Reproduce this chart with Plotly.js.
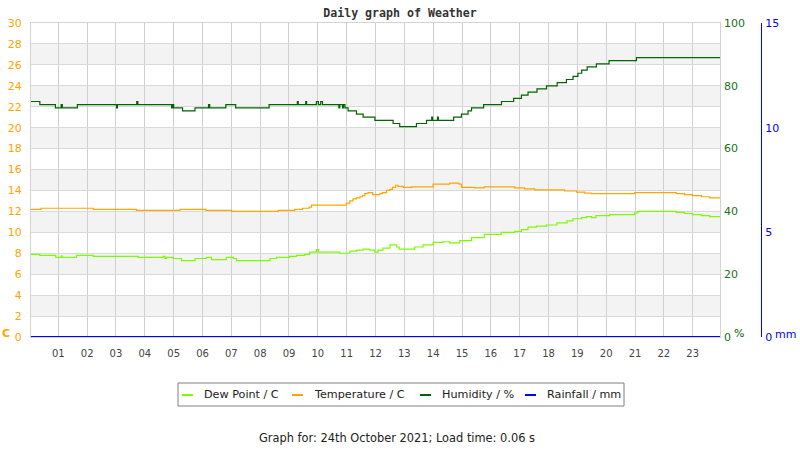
<!DOCTYPE html>
<html>
<head>
<meta charset="utf-8">
<script src="https://cdn.plot.ly/plotly-3.0.1.min.js"></script>
<style>html,body{margin:0;padding:0;background:#fff;}#chart{width:800px;height:450px;}</style>
</head>
<body>
<div id="chart"></div>
<script>
// ---- data (hours of day, step values) ----
var hourTicks = [1,2,3,4,5,6,7,8,9,10,11,12,13,14,15,16,17,18,19,20,21,22,23];
var hourLabels = ["01","02","03","04","05","06","07","08","09","10","11","12","13","14","15","16","17","18","19","20","21","22","23"];

var dewHours = [0.053,0.36,0.91,1.10,1.13,1.63,2.21,3.77,4.64,4.70,4.75,4.98,5.27,5.74,6.14,6.31,6.83,7.07,7.18,8.34,8.57,9.01,9.26,9.55,9.72,9.95,10.02,10.76,11.11,11.34,11.57,11.80,11.98,12.09,12.26,12.50,12.73,12.82,13.36,13.65,14.00,14.34,14.57,14.92,15.33,15.77,16.36,16.83,17.06,17.29,17.58,17.93,18.29,18.64,18.85,19.14,19.31,19.49,19.64,20.12,20.99,21.10,22.43,22.72,22.99,23.30,23.59,23.947];
var dewPoint = [7.9,7.8,7.6,7.75,7.6,7.8,7.7,7.6,7.7,7.5,7.6,7.5,7.3,7.5,7.6,7.4,7.6,7.5,7.3,7.5,7.6,7.7,7.8,7.9,8.1,8.35,8.1,8.0,8.2,8.3,8.4,8.3,8.1,8.3,8.5,8.8,8.6,8.4,8.6,8.8,9.05,9.1,9.0,9.2,9.5,9.8,10.0,10.1,10.25,10.5,10.6,10.7,10.9,11.1,11.3,11.4,11.5,11.4,11.6,11.7,11.85,12.0,11.9,11.8,11.7,11.6,11.5,11.5];

var tempHours = [0.053,0.40,2.21,3.71,5.22,6.12,7.01,8.63,9.20,9.47,9.70,9.78,10.99,11.11,11.22,11.34,11.46,11.55,11.63,11.74,11.90,12.15,12.24,12.38,12.50,12.59,12.70,12.78,12.96,13.25,14.00,14.57,14.90,14.98,15.44,15.77,16.83,17.17,17.52,18.56,18.97,19.26,19.49,20.99,22.43,22.72,22.99,23.30,23.59,23.947];
var temperature = [12.2,12.3,12.2,12.1,12.2,12.1,12.0,12.1,12.2,12.3,12.4,12.6,12.8,13.0,13.2,13.3,13.4,13.5,13.7,13.8,13.6,13.7,13.8,14.0,14.1,14.3,14.5,14.4,14.3,14.35,14.6,14.7,14.6,14.3,14.25,14.35,14.25,14.15,14.05,13.95,13.85,13.75,13.7,13.8,13.7,13.6,13.5,13.4,13.3,13.3];

var humHours = [0.053,0.36,0.90,1.10,1.14,1.66,3.02,3.05,3.72,3.76,4.93,4.96,5.00,5.31,5.74,6.21,6.25,6.81,7.15,8.31,9.29,9.32,9.58,9.61,9.95,10.02,10.10,10.16,10.73,10.76,10.86,10.89,10.94,11.05,11.34,11.57,11.98,12.61,12.84,13.42,13.77,13.95,13.98,14.15,14.18,14.71,14.98,15.21,15.33,15.75,16.37,16.79,17.06,17.29,17.60,17.93,18.30,18.62,18.85,19.02,19.15,19.34,19.66,20.10,21.05,23.947];
var humidity = [75,74,73,74,73,74,73,74,75,74,73,74,73,72,73,74,73,74,73,74,75,74,75,74,75,74,75,74,73,74,73,74,73,72,71,70,69,68,67,68,69,70,69,70,69,70,71,72,73,74,75,76,77,78,79,80,81,82,83,84,85,86,87,88,89,89];

var rainHours = [0.053,23.947];
var rainfall = [0,0];

var leftTicks = [0,2,4,6,8,10,12,14,16,18,20,22,24,26,28,30];
var humTicks = [0,20,40,60,80,100];
var rainTicks = [0,5,10,15];
var legendNames = ["Dew Point / C","Temperature / C","Humidity / %","Rainfall / mm"];
var seriesColors = ["#7CFC00","#FFA500","#006400","#0000FF"];

// ---- layout helpers (pixel -> paper) ----
var W = 800, H = 450, ML = 31, MR = 39, MT = 23, MB = 113;
var PW = W - ML - MR, PH = H - MT - MB;
function px(x){ return (x - ML) / PW; }
function py(y){ return (H - MB - y) / PH; }

var traces = [
  {x: dewHours, y: dewPoint, name: legendNames[0], type:'scatter', mode:'lines', line:{shape:'hv', color:seriesColors[0], width:1.2}, xaxis:'x', yaxis:'y'},
  {x: tempHours, y: temperature, name: legendNames[1], type:'scatter', mode:'lines', line:{shape:'hv', color:seriesColors[1], width:1.2}, xaxis:'x', yaxis:'y'},
  {x: humHours, y: humidity, name: legendNames[2], type:'scatter', mode:'lines', line:{shape:'hv', color:seriesColors[2], width:1.2}, xaxis:'x', yaxis:'y2'},
  {x: rainHours, y: rainfall, name: legendNames[3], type:'scatter', mode:'lines', line:{shape:'hv', color:seriesColors[3], width:2}, xaxis:'x', yaxis:'y3', cliponaxis:false}
];

var shapes = [];
// alternating bands
for (var b = 2; b < 30; b += 4) {
  shapes.push({type:'rect', xref:'x domain', yref:'y', x0:0, x1:1, y0:b, y1:b+2, fillcolor:'#f3f3f3', line:{width:0}, layer:'below'});
}
// custom legend box + swatches
var legBox = {x0:178, x1:624, y0:383, y1:406};
shapes.push({type:'rect', xref:'paper', yref:'paper', x0:px(legBox.x0), x1:px(legBox.x1), y0:py(legBox.y1), y1:py(legBox.y0), line:{color:'#808080', width:1}, fillcolor:'#ffffff'});
var swatchX = [182, 292, 420, 525];
var textX = [202, 312, 440, 545];
var annotations = [];
for (var i = 0; i < 4; i++) {
  shapes.push({type:'line', xref:'paper', yref:'paper', x0:px(swatchX[i]), x1:px(swatchX[i]+11), y0:py(395), y1:py(395), line:{color:seriesColors[i], width:2}});
  annotations.push({xref:'paper', yref:'paper', x:px(textX[i]), y:py(394.5), xanchor:'left', yanchor:'middle', text:legendNames[i], showarrow:false, font:{family:'DejaVu Sans', size:11.2, color:'#222'}});
}
annotations.push({xref:'paper', yref:'paper', x:px(6), y:py(333), xanchor:'center', yanchor:'middle', text:'<b>C</b>', showarrow:false, font:{family:'DejaVu Sans', size:11, color:'#FFA500'}});
annotations.push({xref:'paper', yref:'paper', x:px(739), y:py(333.5), xanchor:'center', yanchor:'middle', text:'%', showarrow:false, font:{family:'DejaVu Sans', size:11, color:'#006400'}});
annotations.push({xref:'paper', yref:'paper', x:px(786), y:py(334.5), xanchor:'center', yanchor:'middle', text:'mm', showarrow:false, font:{family:'DejaVu Sans', size:11, color:'#0000FF'}});
annotations.push({xref:'paper', yref:'paper', x:px(396.5), y:py(438), xanchor:'center', yanchor:'middle', text:'Graph for: 24th October 2021; Load time: 0.06 s', showarrow:false, font:{family:'DejaVu Sans', size:11.4, color:'#222'}});

var layout = {
  width: W, height: H,
  margin: {l:ML, r:MR, t:MT, b:MB, pad:0},
  paper_bgcolor:'#ffffff', plot_bgcolor:'#ffffff',
  font: {family:'DejaVu Sans', size:11, color:'#444'},
  showlegend: false,
  title: {text:'<b>Daily graph of Weather</b>', x:0.5, xref:'container', y:1-13/H, yref:'container', yanchor:'middle', xanchor:'center', font:{family:'DejaVu Sans Mono', size:11.6, color:'#333'}},
  xaxis: {domain:[0, (720-ML)/PW], range:[0.053, 23.947], tickvals:hourTicks, ticktext:hourLabels, showgrid:true, gridcolor:'#d0d0d0', gridwidth:1, zeroline:false, showline:true, mirror:true, linecolor:'#d3d3d3', linewidth:1, ticks:'', tickfont:{family:'DejaVu Sans', size:10, color:'#444'}, ticklabelstandoff:7, fixedrange:true},
  yaxis: {range:[0,30], tickvals:leftTicks, showgrid:true, gridcolor:'#d9d9d9', gridwidth:1, zeroline:false, showline:true, mirror:true, linecolor:'#d3d3d3', ticks:'', tickfont:{family:'DejaVu Sans', size:11, color:'#FFA500'}, ticklabelstandoff:6, fixedrange:true},
  yaxis2: {range:[0,100], tickvals:humTicks, overlaying:'y', side:'right', anchor:'x', showgrid:false, zeroline:false, showline:false, ticks:'', tickfont:{family:'DejaVu Sans', size:11, color:'#1a701a'}, ticklabelstandoff:3, fixedrange:true},
  yaxis3: {range:[0,15], tickvals:rainTicks, overlaying:'y', side:'right', anchor:'free', position:1, showgrid:false, zeroline:false, showline:true, linecolor:'#0000FF', linewidth:1, ticks:'', tickfont:{family:'DejaVu Sans', size:11, color:'#0000FF'}, ticklabelstandoff:1, fixedrange:true},
  shapes: shapes,
  annotations: annotations
};

Plotly.newPlot('chart', traces, layout, {displayModeBar:false, staticPlot:true});
</script>
</body>
</html>
